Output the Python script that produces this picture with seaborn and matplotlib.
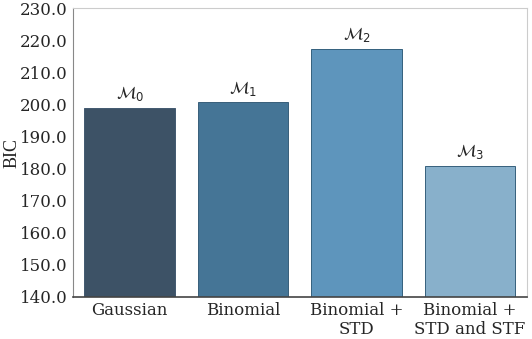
import matplotlib
matplotlib.use("Agg")
import matplotlib.pyplot as plt
import pandas as pd
import seaborn as sns

models = ["Gaussian", "Binomial", "Binomial +\nSTD", "Binomial +\nSTD and STF"]
bic = [198.8, 200.6, 217.2, 180.9]
labels = [r"$\mathcal{M}_0$", r"$\mathcal{M}_1$", r"$\mathcal{M}_2$", r"$\mathcal{M}_3$"]
colors = ["#3d5266", "#457596", "#5e95bc", "#88b0cb"]

df = pd.DataFrame({"model": models, "BIC": bic})

sns.set_style("white")
plt.rcParams["font.family"] = ["DejaVu Serif"]

fig, ax = plt.subplots(figsize=(5.32, 3.39), dpi=100)
sns.barplot(data=df, x="model", y="BIC", hue="model", palette=colors,
            legend=False, ax=ax, width=0.8, saturation=1)
for p, c in zip(ax.patches, colors):
    p.set_edgecolor(sns.set_hls_values(c, l=0.35))
    p.set_linewidth(0.7)

for i, (v, lab) in enumerate(zip(bic, labels)):
    ax.text(i, v + 1.5, lab, ha="center", va="bottom", fontsize=12)

ax.set_ylim(140, 230)
ax.set_yticks(range(140, 231, 10))
ax.set_yticklabels([f"{t:.1f}" for t in range(140, 231, 10)], fontsize=12)
ax.tick_params(axis="x", labelsize=12, length=0)
ax.tick_params(axis="y", length=0)
ax.set_xlabel("")
ax.set_ylabel("BIC", fontsize=13, family="Liberation Serif")
ax.yaxis.set_label_coords(-0.115, 0.5)

for s in ["top", "right"]:
    ax.spines[s].set_color("#cccccc")
ax.spines["left"].set_color("#888888")
ax.spines["bottom"].set_color("#444444")
ax.spines["bottom"].set_linewidth(1.2)

fig.subplots_adjust(left=0.137, right=0.99, top=0.976, bottom=0.124)
fig.savefig("out.png", dpi=100)
